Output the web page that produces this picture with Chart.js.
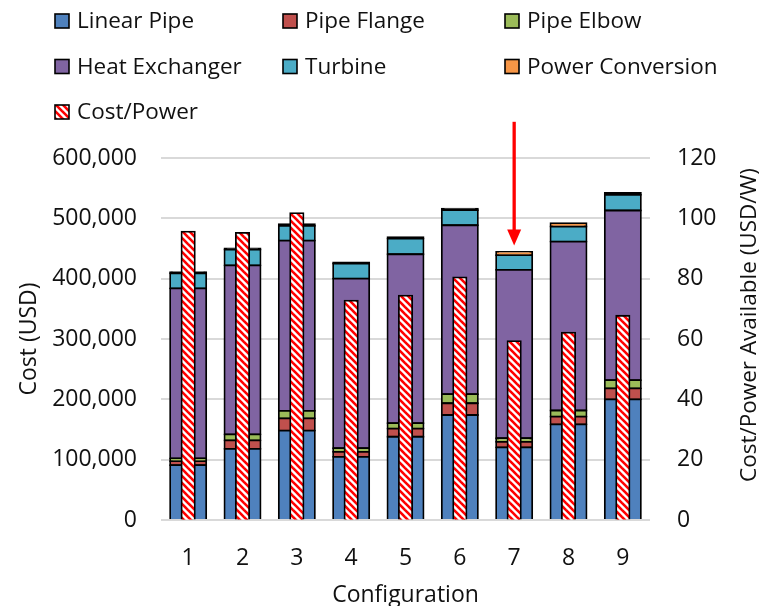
<!DOCTYPE html>
<html>
<head>
<meta charset="utf-8">
<title>Configuration cost</title>
<script src="https://cdn.jsdelivr.net/npm/chart.js@4.4.1/dist/chart.umd.min.js"></script>
<style>
  html, body { margin: 0; padding: 0; background: #ffffff; }
  #wrap { width: 761px; height: 606px; position: relative; }
  canvas { display: block; }
</style>
</head>
<body>
<div id="wrap"><canvas id="chart" width="761" height="606"></canvas></div>
<script>
// Cost breakdown per configuration (USD) and cost per available power (USD/W)
const configurations  = ['1', '2', '3', '4', '5', '6', '7', '8', '9'];
const linearPipe      = [91000, 118000, 148000, 104500, 138000, 174000, 120500, 158500, 200000];
const pipeFlange      = [6500, 14000, 20500, 8500, 13500, 19500, 9000, 13000, 18000];
const pipeElbow       = [4500, 10000, 12500, 6000, 9000, 15000, 6000, 10000, 14000];
const heatExchanger   = [282000, 280000, 282000, 281000, 280000, 280000, 279000, 280000, 281000];
const turbine         = [25000, 26000, 24500, 25000, 26000, 25000, 24500, 25000, 26000];
const powerConversion = [2000, 2000, 3000, 2000, 2500, 2500, 5500, 5500, 3000];
const costPerPower    = [95.6, 95.2, 101.7, 72.7, 74.4, 80.4, 59.3, 62.1, 67.7];

const costAxis  = { min: 0, max: 600000, step: 100000 };
const ratioAxis = { min: 0, max: 120, step: 20 };

// Arrow pointing at configuration 7 (values in USD on the cost axis)
const highlight = { index: 6, from: 660000, to: 455000 };

const FONT = '"Open Sans", "Noto Sans", sans-serif';
const TEXT = '#111111';
const BORDER_W = 1.8;

// Red / white diagonal hatch for the Cost/Power bars
function makeHatch() {
  const s = 7;
  const c = document.createElement('canvas');
  c.width = s; c.height = s;
  const g = c.getContext('2d');
  g.fillStyle = '#ffffff';
  g.fillRect(0, 0, s, s);
  g.strokeStyle = '#ff0000';
  g.lineWidth = 2.6;
  for (let k = -2; k <= 2; k++) {
    g.beginPath();
    g.moveTo(k * s - s, -s);
    g.lineTo(k * s + 2 * s, 2 * s);
    g.stroke();
  }
  return document.getElementById('chart').getContext('2d').createPattern(c, 'repeat');
}
const hatch = makeHatch();

// A segment barely thicker than its outline is covered by the outline (drawn black)
function segmentFill(color) {
  return (ctx) => {
    const y = ctx.chart.scales.y;
    const v = ctx.raw;
    if (y && typeof v === 'number') {
      const h = Math.abs(y.getPixelForValue(v) - y.getPixelForValue(0));
      if (h < BORDER_W + 0.5) return '#000000';
    }
    return color;
  };
}

function stackSet(label, data, color, skip) {
  return {
    label, data,
    legendColor: color,
    backgroundColor: segmentFill(color),
    borderColor: '#000000',
    borderWidth: BORDER_W,
    borderSkipped: skip,
    inflateAmount: BORDER_W / 2,
    yAxisID: 'y',
    grouped: false,
    categoryPercentage: 1,
    barPercentage: 0.665
  };
}

const datasets = [
  stackSet('Linear Pipe', linearPipe, '#4f81bd', 'start'),
  stackSet('Pipe Flange', pipeFlange, '#c0504d', false),
  stackSet('Pipe Elbow', pipeElbow, '#9bbb59', false),
  stackSet('Heat Exchanger', heatExchanger, '#8064a2', false),
  stackSet('Turbine', turbine, '#4bacc6', false),
  stackSet('Power Conversion', powerConversion, '#f79646', false),
  {
    label: 'Cost/Power',
    data: costPerPower,
    legendColor: hatch,
    backgroundColor: hatch,
    borderColor: '#000000',
    borderWidth: BORDER_W,
    borderSkipped: 'start',
    inflateAmount: BORDER_W / 2,
    yAxisID: 'y1',
    grouped: false,
    categoryPercentage: 1,
    barPercentage: 0.245,
    order: -1
  }
];

// Legend in three fixed columns above the plot
const legendGrid = {
  id: 'legendGrid',
  afterDraw(chart) {
    const ctx = chart.ctx;
    const cols = [55, 283, 505];
    const rows = [21, 66.5, 112];
    const box = 14;
    ctx.save();
    ctx.font = '22.5px ' + FONT;
    ctx.textBaseline = 'middle';
    ctx.textAlign = 'left';
    chart.data.datasets.forEach((ds, i) => {
      const x = cols[i % 3];
      const y = rows[Math.floor(i / 3)];
      ctx.fillStyle = ds.legendColor;
      ctx.fillRect(x, y - box / 2, box, box);
      ctx.lineWidth = 1.6;
      ctx.strokeStyle = '#000000';
      ctx.strokeRect(x, y - box / 2, box, box);
      ctx.fillStyle = TEXT;
      ctx.fillText(ds.label, x + 22, y + 1);
    });
    ctx.restore();
  }
};

// Right-hand axis title, reading bottom to top
const rightTitle = {
  id: 'rightTitle',
  afterDraw(chart) {
    const ctx = chart.ctx;
    const s = chart.scales.y1;
    ctx.save();
    ctx.translate(s.right - 11, (chart.chartArea.top + chart.chartArea.bottom) / 2 - 14);
    ctx.rotate(-Math.PI / 2);
    ctx.font = '22.5px ' + FONT;
    ctx.fillStyle = TEXT;
    ctx.textAlign = 'center';
    ctx.textBaseline = 'middle';
    ctx.fillText('Cost/Power Available (USD/W)', 0, 0);
    ctx.restore();
  }
};

// Red arrow marking the highlighted configuration
const arrowMark = {
  id: 'arrowMark',
  afterDatasetsDraw(chart) {
    const ctx = chart.ctx;
    const x = chart.scales.x.getPixelForValue(highlight.index);
    const y0 = chart.scales.y.getPixelForValue(highlight.from);
    const y1 = chart.scales.y.getPixelForValue(highlight.to);
    const headH = 16, headW = 14;
    ctx.save();
    ctx.strokeStyle = '#ff0000';
    ctx.fillStyle = '#ff0000';
    ctx.lineWidth = 3.3;
    ctx.beginPath();
    ctx.moveTo(x, y0);
    ctx.lineTo(x, y1 - headH + 1);
    ctx.stroke();
    ctx.beginPath();
    ctx.moveTo(x - headW / 2, y1 - headH);
    ctx.lineTo(x + headW / 2, y1 - headH);
    ctx.lineTo(x, y1);
    ctx.closePath();
    ctx.fill();
    ctx.restore();
  }
};

new Chart(document.getElementById('chart'), {
  type: 'bar',
  data: { labels: configurations, datasets },
  plugins: [legendGrid, rightTitle, arrowMark],
  options: {
    responsive: false,
    animation: false,
    devicePixelRatio: 1,
    layout: { padding: { top: 158, left: 0, right: 0, bottom: 0 } },
    plugins: {
      legend: { display: false },
      tooltip: { enabled: false }
    },
    scales: {
      x: {
        stacked: true,
        grid: { display: false },
        border: { display: false },
        ticks: { color: TEXT, font: { family: FONT, size: 23 }, padding: 17 },
        title: {
          display: true, text: 'Configuration', color: TEXT,
          font: { family: FONT, size: 23, lineHeight: 0.9 },
          padding: { top: 0, bottom: 0 }
        },
        afterFit(scale) { scale.height = 86; }
      },
      y: {
        stacked: true,
        position: 'left',
        min: costAxis.min, max: costAxis.max,
        grid: { color: '#d9d9d9', lineWidth: 2, drawTicks: false },
        border: { display: false },
        ticks: {
          stepSize: costAxis.step, padding: 24, color: TEXT,
          font: { family: FONT, size: 23 },
          callback: (v) => v.toLocaleString('en-US')
        },
        title: {
          display: true, text: 'Cost (USD)', color: TEXT,
          font: { family: FONT, size: 23 },
          padding: { top: 16, bottom: 0 }
        },
        afterFit(scale) { scale.width = 161; }
      },
      y1: {
        stacked: false,
        position: 'right',
        min: ratioAxis.min, max: ratioAxis.max,
        grid: { drawOnChartArea: false, drawTicks: false },
        border: { display: false },
        ticks: {
          stepSize: ratioAxis.step, padding: 27, color: TEXT,
          font: { family: FONT, size: 23 }
        },
        afterFit(scale) { scale.width = 111; }
      }
    }
  }
});
</script>
</body>
</html>
